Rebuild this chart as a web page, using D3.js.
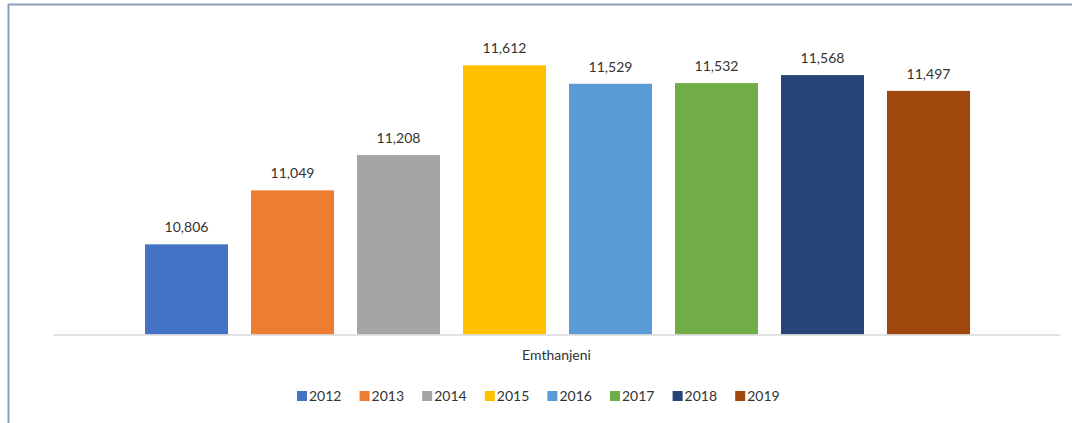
<!DOCTYPE html>
<html><head><meta charset="utf-8">
<script src="https://cdn.jsdelivr.net/npm/d3@7"></script>
<style>body{margin:0;background:#fff;} svg{display:block;}</style>
</head><body>
<svg id="c" width="1072" height="423"></svg>
<script>
const category = "Emthanjeni";
const years = ["2012","2013","2014","2015","2016","2017","2018","2019"];
const values = [10806, 11049, 11208, 11612, 11529, 11532, 11568, 11497];
const colors = ["#4472c4","#ed7d31","#a5a5a5","#ffc000","#5b9bd5","#70ad47","#264478","#9e480e"];

const svg = d3.select("#c");
const font = "Lato, 'Open Sans', sans-serif";

// frame
svg.append("line").attr("x1",8).attr("x2",1072).attr("y1",4.5).attr("y2",4.5).attr("stroke","#8e9fbb").attr("stroke-width",2);
svg.append("line").attr("x1",8.5).attr("x2",8.5).attr("y1",4).attr("y2",423).attr("stroke","#8e9fbb").attr("stroke-width",2);

const plotL = 53, plotR = 1060, baseY = 334.5;
const x0 = d3.scaleBand().domain([category]).range([plotL, plotR]).paddingInner(0).paddingOuter(0);
const x1 = d3.scaleBand().domain(years).range([145, 970]).paddingInner(23/106).paddingOuter(0);
const y = d3.scaleLinear().domain([10400, 11800]).range([baseY, baseY - 1400*0.2221]);

const g = svg.append("g");
g.selectAll("rect").data(years).enter().append("rect")
  .attr("x", d => x1(d))
  .attr("y", (d,i) => y(values[i]))
  .attr("width", x1.bandwidth())
  .attr("height", (d,i) => baseY - y(values[i]))
  .attr("fill", (d,i) => colors[i]);

g.selectAll("text.lbl").data(years).enter().append("text")
  .attr("class","lbl")
  .attr("x", d => x1(d) + x1.bandwidth()/2)
  .attr("y", (d,i) => y(values[i]) - 12)
  .attr("text-anchor","middle")
  .attr("font-family", font).attr("font-size", 14).attr("fill","#333")
  .text((d,i) => d3.format(",")(values[i]));

// axis
const ax = svg.append("g").attr("transform", `translate(0,${baseY})`)
  .call(d3.axisBottom(x0).tickSize(0).tickPadding(16));
ax.select(".domain").attr("stroke","#d9d9d9").attr("stroke-width",1.5);
ax.selectAll("text").attr("font-family", font).attr("font-size", 14).attr("fill","#333");

// legend
const lg = svg.append("g").attr("transform","translate(297,396)");
const item = lg.selectAll("g").data(years).enter().append("g")
  .attr("transform",(d,i)=>`translate(${i*62.6},0)`);
item.append("rect").attr("x",0).attr("y",-5).attr("width",10).attr("height",10).attr("fill",(d,i)=>colors[i]);
item.append("text").attr("x",12).attr("y",5).attr("font-family",font).attr("font-size",14).attr("fill","#333").text(d=>d);
</script>
</body></html>
